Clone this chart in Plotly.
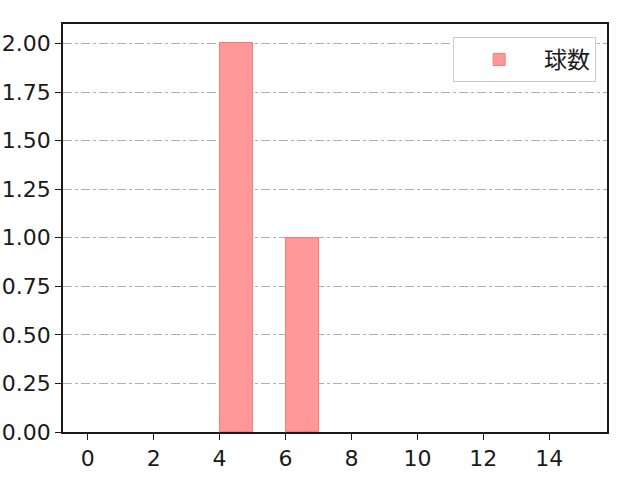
import plotly.graph_objects as go

# histogram bins (left edges, width 1) and counts
bin_left = list(range(15))
counts = [0, 0, 0, 0, 2, 0, 1, 0, 0, 0, 0, 0, 0, 0, 0]
series_name = "球数"

x_ticks = [0, 2, 4, 6, 8, 10, 12, 14]
y_ticks = [0, 0.25, 0.5, 0.75, 1.0, 1.25, 1.5, 1.75, 2.0]

# empty bins are not drawn (no outline at zero height)
heights = [c if c else None for c in counts]

fig = go.Figure()
fig.add_trace(go.Bar(
    x=bin_left,
    y=heights,
    width=1,
    offset=0,
    name=series_name,
    marker=dict(color="rgb(255,153,153)",
                line=dict(color="rgb(255,120,120)", width=1)),
    showlegend=True,
))

axis_common = dict(
    showline=True, linecolor="#1a1a1a", linewidth=1.5, mirror=True,
    ticks="outside", ticklen=6, tickwidth=1.2, tickcolor="#1a1a1a",
    tickfont=dict(size=22, color="#1a1a1a", family="DejaVu Sans"),
    zeroline=False, automargin=False,
)

fig.update_layout(
    width=640, height=480,
    margin=dict(l=63, r=33, t=24, b=48),
    paper_bgcolor="white", plot_bgcolor="white",
    font=dict(family="DejaVu Sans, Noto Sans CJK JP, sans-serif", size=22, color="#1a1a1a"),
    bargap=0,
    xaxis=dict(range=[-0.75, 15.75], tickvals=x_ticks, showgrid=False, **axis_common),
    yaxis=dict(range=[0, 2.1], tickvals=y_ticks, tickformat=".2f",
               showgrid=True, gridcolor="#b0b0b0", gridwidth=1, griddash="dashdot",
               **axis_common),
    legend=dict(x=0.98, y=0.968, xanchor="right", yanchor="top",
                bordercolor="#cccccc", borderwidth=1, bgcolor="white",
                font=dict(size=23, family="Noto Sans CJK JP"),
                itemwidth=80),
)

# drop the browser's default 8px body margin so the figure sits at 0,0
fig.write_html("out.html", config={"displayModeBar": False},
               post_script="document.body.style.margin='0';")
